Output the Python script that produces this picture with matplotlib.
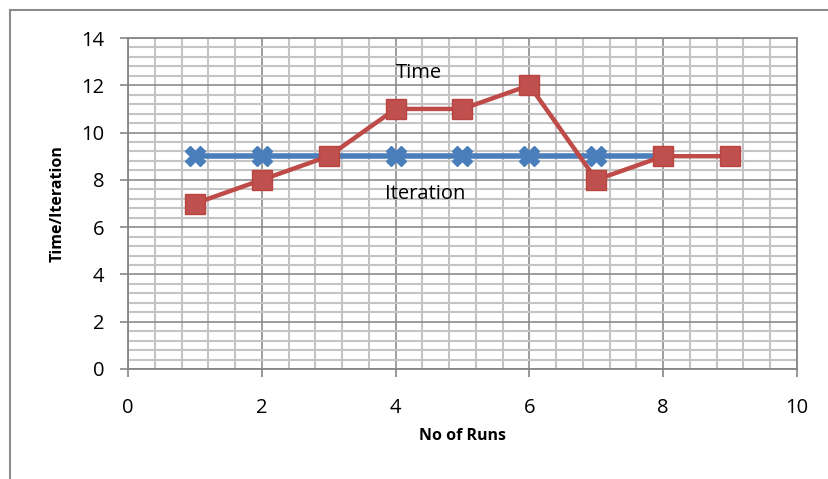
import numpy as np
import matplotlib
matplotlib.use('Agg')
from matplotlib import pyplot as plt
from matplotlib.lines import Line2D

plt.rcParams['font.family'] = ['Open Sans', 'DejaVu Sans']

runs = [1, 2, 3, 4, 5, 6, 7, 8, 9]
time_vals = [7, 8, 9, 11, 11, 12, 8, 9, 9]
iter_runs = [1, 2, 3, 4, 5, 6, 7, 8]
iter_vals = [9, 9, 9, 9, 9, 9, 9, 9]

fig = plt.figure(figsize=(8.29, 4.79), dpi=100)
ax = fig.add_axes([128/829, 1 - 369/479, 669/829, 331/479])

ax.plot(iter_runs, iter_vals, '-', color='#4A7EBB', lw=4, marker='X',
        ms=14, mec='#4A7EBB', mfc='#4A7EBB', zorder=3)
ax.plot(runs, time_vals, '-', color='#BE4B48', lw=3.2, marker='s',
        ms=15, mec='#B84542', mfc='#C0504D', mew=1, zorder=4)

ax.set_xlim(0, 10)
ax.set_ylim(0, 14)
ax.set_xticks(np.arange(0, 11, 2))
ax.set_yticks(np.arange(0, 15, 2))
ax.set_xticks(np.arange(0, 10.01, 0.4), minor=True)
ax.set_yticks(np.arange(0, 14.01, 0.4), minor=True)
ax.grid(which='minor', color='#C4C4C4', lw=1.5)
ax.grid(which='major', color='#8C8C8C', lw=1.2)
ax.set_axisbelow(True)
ax.tick_params(which='minor', length=0)
ax.tick_params(which='major', length=6, width=1.2, color='#868686',
               labelsize=14.5)
ax.tick_params(axis='x', pad=15)
ax.tick_params(axis='y', pad=11)
for s in ['left', 'bottom', 'right', 'top']:
    ax.spines[s].set_color('#868686')
    ax.spines[s].set_linewidth(1.3)

ax.set_xlabel('No of Runs', fontsize=11.5, fontweight='bold', labelpad=7)
ax.set_ylabel('Time/Iteration', fontsize=11.5, fontweight='bold', labelpad=11)

ax.text(4.35, 12.5, 'Time', fontsize=14.5, ha='center', va='center', zorder=5)
ax.text(4.44, 7.4, 'Iteration', fontsize=14.5, ha='center', va='center', zorder=5)

# chart area frame (extends past the image on the right and bottom)
fig.add_artist(Line2D([10/829, 1.01], [1 - 10/479] * 2, color='#8C8C8C', lw=1.5))
fig.add_artist(Line2D([10/829] * 2, [-0.01, 1 - 10/479], color='#8C8C8C', lw=1.5))

fig.savefig('out.png', dpi=100)
